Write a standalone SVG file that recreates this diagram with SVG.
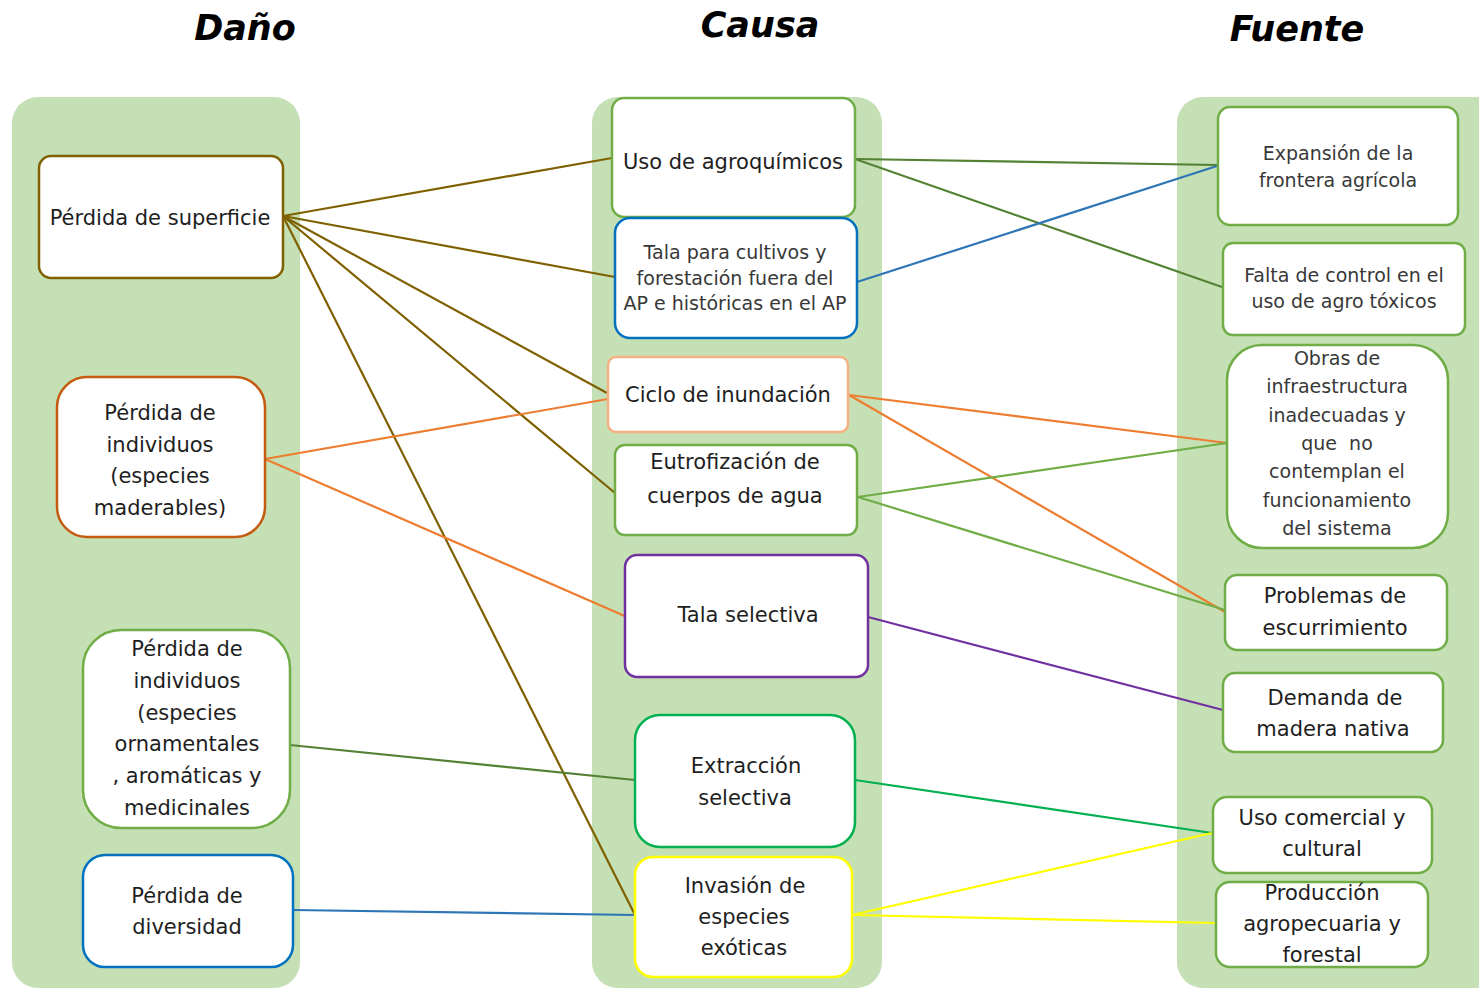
<svg xmlns="http://www.w3.org/2000/svg" width="1479" height="989" viewBox="0 0 1479 989">
<style>
.panel{fill:#c5e0b4}
.title{font-family:"DejaVu Sans",sans-serif;font-weight:bold;font-style:italic;font-size:35px;fill:#000;text-anchor:middle}
.box{fill:#fff;stroke-width:2.5}
.t{font-family:"DejaVu Sans",sans-serif;font-size:21px;fill:#1e1e1e;text-anchor:middle}
.s{font-family:"DejaVu Sans",sans-serif;font-size:19px;fill:#383838;text-anchor:middle}
.c{fill:none;stroke-width:2.2}
.olive{stroke:#7f6000}
.orange{stroke:#ed7d31}
.dgreen{stroke:#548235}
.lgreen{stroke:#70ad47}
.blue{stroke:#2e75b6}
.purple{stroke:#7030a0}
.egreen{stroke:#00b050}
.yellow{stroke:#ffff00}
</style>
<rect width="1479" height="989" fill="#fff"/>
<g id="titles">
<text class="title" x="245" y="40">Daño</text>
<text class="title" x="760" y="37">Causa</text>
<text class="title" x="1297" y="41">Fuente</text>
</g>
<g id="panels">
<rect class="panel" x="12" y="97" width="288" height="891" rx="26"/>
<rect class="panel" x="592" y="97" width="290" height="891" rx="26"/>
<rect class="panel" x="1177" y="97" width="330" height="891" rx="26"/>
</g>
<g id="connectors">
<line class="c olive" x1="283" y1="216" x2="612" y2="158"/>
<line class="c olive" x1="283" y1="216" x2="615" y2="277"/>
<line class="c olive" x1="283" y1="216" x2="607" y2="393"/>
<line class="c olive" x1="283" y1="216" x2="615" y2="493"/>
<line class="c olive" x1="283" y1="216" x2="635" y2="915"/>
<line class="c orange" x1="265" y1="459" x2="608" y2="399"/>
<line class="c orange" x1="265" y1="459" x2="627" y2="617"/>
<line class="c dgreen" x1="290" y1="745" x2="635" y2="780"/>
<line class="c blue" x1="293" y1="910" x2="635" y2="915"/>
<line class="c dgreen" x1="855" y1="159" x2="1217" y2="165"/>
<line class="c dgreen" x1="855" y1="159" x2="1222" y2="287"/>
<line class="c blue" x1="857" y1="282" x2="1217" y2="166"/>
<line class="c orange" x1="849" y1="395" x2="1227" y2="443"/>
<line class="c orange" x1="849" y1="395" x2="1225" y2="612"/>
<line class="c lgreen" x1="858" y1="497" x2="1227" y2="443"/>
<line class="c lgreen" x1="858" y1="497" x2="1225" y2="610"/>
<line class="c purple" x1="868" y1="617" x2="1223" y2="710"/>
<line class="c egreen" x1="855" y1="780" x2="1212" y2="833"/>
<line class="c yellow" x1="852" y1="915" x2="1212" y2="833"/>
<line class="c yellow" x1="852" y1="915" x2="1215" y2="923"/>
</g>
<g id="dano-superficie">
<rect class="box" x="39" y="156" width="244" height="122" rx="12" stroke="#806000"/>
<text class="t" x="160" y="225">Pérdida de superficie</text>
</g>
<g id="dano-maderables">
<rect class="box" x="57" y="377" width="208" height="160" rx="30" stroke="#c55a11"/>
<text class="t" x="160" y="420">Pérdida de</text>
<text class="t" x="160" y="451.5">individuos</text>
<text class="t" x="160" y="483">(especies</text>
<text class="t" x="160" y="514.5">maderables)</text>
</g>
<g id="dano-ornamentales">
<rect class="box" x="83" y="630" width="207" height="198" rx="38" stroke="#70ad47"/>
<text class="t" x="187" y="656">Pérdida de</text>
<text class="t" x="187" y="688">individuos</text>
<text class="t" x="187" y="720">(especies</text>
<text class="t" x="187" y="751">ornamentales</text>
<text class="t" x="187" y="783">, aromáticas y</text>
<text class="t" x="187" y="815">medicinales</text>
</g>
<g id="dano-diversidad">
<rect class="box" x="83" y="855" width="210" height="112" rx="22" stroke="#0070c0"/>
<text class="t" x="187" y="903">Pérdida de</text>
<text class="t" x="187" y="934">diversidad</text>
</g>
<g id="causa-agroquimicos">
<rect class="box" x="612" y="98" width="243" height="119" rx="12" stroke="#70ad47"/>
<text class="t" x="733" y="169">Uso de agroquímicos</text>
</g>
<g id="causa-tala-cultivos">
<rect class="box" x="615" y="218" width="242" height="120" rx="15" stroke="#0070c0"/>
<text class="s" x="735" y="259">Tala para cultivos y</text>
<text class="s" x="735" y="285">forestación fuera del</text>
<text class="s" x="735" y="310">AP e históricas en el AP</text>
</g>
<g id="causa-inundacion">
<rect class="box" x="608" y="357" width="240" height="75" rx="8" stroke="#f4b183"/>
<text class="t" x="728" y="402">Ciclo de inundación</text>
</g>
<g id="causa-eutrofizacion">
<rect class="box" x="615" y="445" width="242" height="90" rx="10" stroke="#70ad47"/>
<text class="t" x="735" y="469">Eutrofización de</text>
<text class="t" x="735" y="503">cuerpos de agua</text>
</g>
<g id="causa-tala-selectiva">
<rect class="box" x="625" y="555" width="243" height="122" rx="12" stroke="#7030a0"/>
<text class="t" x="748" y="622">Tala selectiva</text>
</g>
<g id="causa-extraccion">
<rect class="box" x="635" y="715" width="220" height="132" rx="25" stroke="#00b050"/>
<text class="t" x="746" y="773">Extracción</text>
<text class="t" x="745" y="805">selectiva</text>
</g>
<g id="causa-invasion">
<rect class="box" x="635" y="857" width="217" height="120" rx="18" stroke="#ffff00"/>
<text class="t" x="745" y="893">Invasión de</text>
<text class="t" x="744" y="924">especies</text>
<text class="t" x="744" y="955">exóticas</text>
</g>
<g id="fuente-expansion">
<rect class="box" x="1218" y="107" width="240" height="118" rx="12" stroke="#70ad47"/>
<text class="s" x="1338" y="160">Expansión de la</text>
<text class="s" x="1338" y="187">frontera agrícola</text>
</g>
<g id="fuente-falta-control">
<rect class="box" x="1223" y="243" width="242" height="92" rx="10" stroke="#70ad47"/>
<text class="s" x="1344" y="282">Falta de control en el</text>
<text class="s" x="1344" y="308">uso de agro tóxicos</text>
</g>
<g id="fuente-obras">
<rect class="box" x="1227" y="345" width="221" height="203" rx="35" stroke="#70ad47"/>
<text class="s" x="1337" y="365">Obras de</text>
<text class="s" x="1337" y="393">infraestructura</text>
<text class="s" x="1337" y="422">inadecuadas y</text>
<text class="s" x="1337" y="450">que &#160;no</text>
<text class="s" x="1337" y="478">contemplan el</text>
<text class="s" x="1337" y="507">funcionamiento</text>
<text class="s" x="1337" y="535">del sistema</text>
</g>
<g id="fuente-escurrimiento">
<rect class="box" x="1225" y="575" width="222" height="75" rx="12" stroke="#70ad47"/>
<text class="t" x="1335" y="603">Problemas de</text>
<text class="t" x="1335" y="635">escurrimiento</text>
</g>
<g id="fuente-madera">
<rect class="box" x="1223" y="673" width="220" height="79" rx="12" stroke="#70ad47"/>
<text class="t" x="1335" y="705">Demanda de</text>
<text class="t" x="1333" y="736">madera nativa</text>
</g>
<g id="fuente-uso-comercial">
<rect class="box" x="1213" y="797" width="219" height="76" rx="14" stroke="#70ad47"/>
<text class="t" x="1322" y="825">Uso comercial y</text>
<text class="t" x="1322" y="856">cultural</text>
</g>
<g id="fuente-produccion">
<rect class="box" x="1216" y="882" width="212" height="85" rx="14" stroke="#70ad47"/>
<text class="t" x="1322" y="900">Producción</text>
<text class="t" x="1322" y="931">agropecuaria y</text>
<text class="t" x="1322" y="962">forestal</text>
</g>
</svg>
